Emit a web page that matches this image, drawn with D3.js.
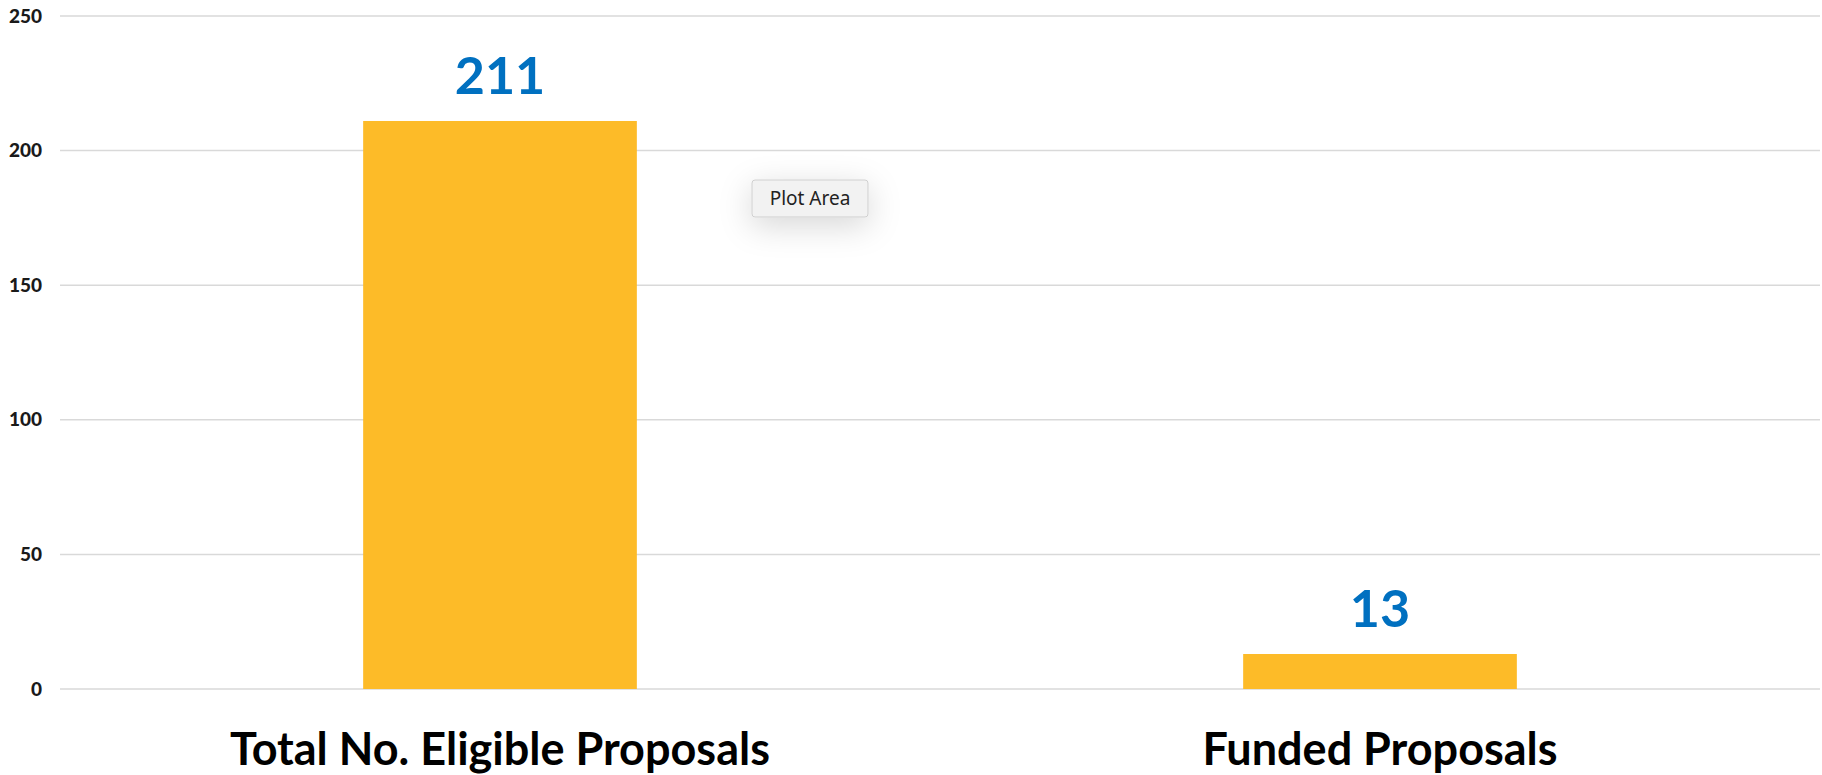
<!DOCTYPE html>
<html>
<head>
<meta charset="utf-8">
<script src="https://cdn.jsdelivr.net/npm/d3@7"></script>
<style>
  body { margin: 0; background: #fff; }
  svg { display: block; }
</style>
</head>
<body>
<svg id="chart" width="1822" height="775"></svg>
<script>
// chart data
var categories = ["Total No. Eligible Proposals", "Funded Proposals"];
var values = [211, 13];
var yTicks = [0, 50, 100, 150, 200, 250];

var svg = d3.select("#chart");
var gridLeft = 60, gridRight = 1820;
var plotTop = 16, plotBottom = 689;

var y = d3.scaleLinear().domain([0, 250]).range([plotBottom, plotTop]);
var x = d3.scaleBand().domain(categories).range([gridLeft, gridRight])
  .paddingInner(0.689).paddingOuter(0.3445);

// gridlines
svg.append("g").selectAll("line")
  .data(yTicks)
  .enter().append("line")
    .attr("x1", gridLeft)
    .attr("x2", gridRight)
    .attr("y1", function(d){ return y(d); })
    .attr("y2", function(d){ return y(d); })
    .style("stroke", "#d9d9d9")
    .style("stroke-width", 1.5);

// y axis labels
var yAxis = d3.axisLeft(y).tickValues(yTicks).tickSize(0).tickPadding(0);
var ya = svg.append("g").attr("transform", "translate(42,0)").call(yAxis);
ya.select(".domain").remove();
ya.selectAll("text")
  .style("font-family", "Lato, 'Open Sans', sans-serif")
  .style("font-weight", "900")
  .style("font-size", "19px")
  .style("fill", "#1a1a1a");

// bars
svg.append("g").selectAll("rect")
  .data(values)
  .enter().append("rect")
    .attr("x", function(d, i){ return x(categories[i]); })
    .attr("width", x.bandwidth())
    .attr("y", function(d){ return y(d); })
    .attr("height", function(d){ return y(0) - y(d); })
    .style("fill", "#FDBB28");

// value labels
svg.append("g").selectAll("text")
  .data(values)
  .enter().append("text")
    .attr("x", function(d, i){ return x(categories[i]) + x.bandwidth() / 2; })
    .attr("y", function(d){ return y(d) - 27; })
    .attr("text-anchor", "middle")
    .style("font-family", "Lato, 'Open Sans', sans-serif")
    .style("font-weight", "bold")
    .style("font-size", "52px")
    .style("fill", "#0070C0")
    .text(function(d){ return d; });

// category labels
svg.append("g").selectAll("text")
  .data(categories)
  .enter().append("text")
    .attr("x", function(d){ return x(d) + x.bandwidth() / 2; })
    .attr("y", 765)
    .attr("text-anchor", "middle")
    .style("font-family", "Lato, 'Open Sans', sans-serif")
    .style("font-weight", "bold")
    .style("font-size", "45px")
    .style("fill", "#000")
    .text(function(d){ return d; });

// "Plot Area" tooltip
var defs = svg.append("defs");
var f = defs.append("filter").attr("id", "shadow")
  .attr("x", "-80%").attr("y", "-150%").attr("width", "260%").attr("height", "400%");
f.append("feDropShadow").attr("dx", 0).attr("dy", 8).attr("stdDeviation", 16)
  .attr("flood-color", "#000").attr("flood-opacity", 0.16);

var tip = svg.append("g").attr("transform", "translate(752,180)");
tip.append("rect")
  .attr("width", 116)
  .attr("height", 37)
  .attr("rx", 3)
  .style("fill", "#f2f2f2")
  .style("stroke", "#cfcfcf")
  .style("stroke-width", 1)
  .attr("filter", "url(#shadow)");
tip.append("text")
  .attr("x", 58)
  .attr("y", 25)
  .attr("text-anchor", "middle")
  .style("font-family", "'Noto Sans', sans-serif")
  .style("font-size", "19px")
  .style("fill", "#222")
  .text("Plot Area");
</script>
</body>
</html>
